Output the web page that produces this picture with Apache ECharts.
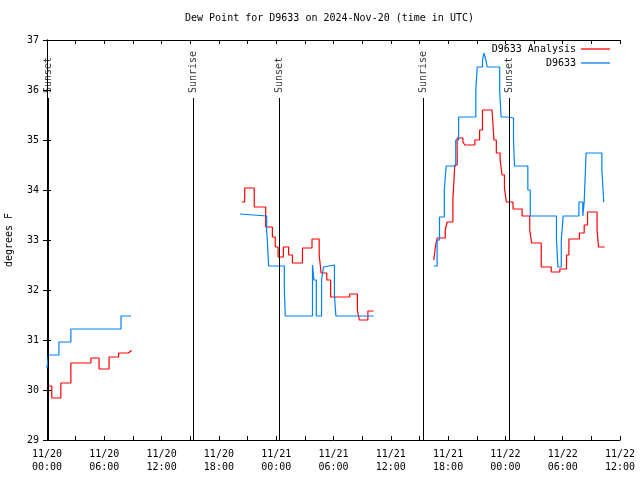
<!DOCTYPE html>
<html>
<head>
<meta charset="utf-8">
<script src="https://cdn.jsdelivr.net/npm/echarts@6/dist/echarts.min.js"></script>
<style>html,body{margin:0;padding:0;background:#fff}#c{width:640px;height:480px}</style>
</head>
<body>
<div id="c"></div>
<script>
// Hours since 2024-11-20 00:00 UTC; null = data gap (placed at the last hour of the segment before it)
const analysisHours = [0, 0.5, 1.45, 2.5, 4.6, 5.45, 6.5, 7.5, 8.5, 8.8,
  8.8,
  20.4, 20.7, 21.7, 22.9, 23.6, 23.9, 24.2, 24.75, 25.3, 25.7, 26.75, 27.75, 28.5, 28.7, 29.3, 29.7, 31.7, 32.5, 32.7, 33.6, 34.2,
  34.2,
  40.5, 40.7, 40.85, 41.7, 41.9, 42.5, 42.7, 42.95, 43.55, 43.75, 44.8, 45.3, 45.6, 46.6, 46.8, 47.05, 47.45, 47.65, 47.9, 48.1, 48.8, 49.75, 50.55, 50.75, 51.75, 52.8, 53.7, 54.4, 54.65, 55.75, 56.25, 56.6, 57.6, 57.75, 58.4];
const analysisValues = [30.08, 29.84, 30.14, 30.54, 30.64, 30.42, 30.66, 30.74, 30.78, 30.80,
  null,
  33.76, 34.04, 33.66, 33.26, 33.06, 32.86, 32.66, 32.86, 32.70, 32.54, 32.84, 33.02, 32.70, 32.34, 32.20, 31.86, 31.92, 31.60, 31.40, 31.58, 31.58,
  null,
  32.60, 32.90, 33.04, 33.20, 33.36, 33.80, 34.50, 35.04, 34.96, 34.90, 35.00, 35.20, 35.60, 35.60, 35.00, 34.74, 34.60, 34.30, 34.04, 33.76, 33.62, 33.48, 33.20, 32.94, 32.46, 32.36, 32.42, 32.70, 33.02, 33.14, 33.30, 33.56, 33.20, 32.86, 32.86];

const obsHours = [0, 0.15, 1.25, 2.5, 6.3, 6.4, 7.75, 8.8,
  8.8,
  20.2, 20.4, 23.0, 23.1, 23.2, 24.85, 24.95, 27.8, 27.95, 28.2, 28.75, 28.95, 29.15, 30.1, 30.25, 34.2,
  34.2,
  40.5, 40.85, 41.1, 41.6, 41.8, 42.8, 43.1, 44.9, 45.05, 45.6, 45.75, 45.95, 46.1, 47.4, 47.55, 48.2, 48.85, 48.95, 50.35, 50.6, 53.35, 53.5, 53.85, 54.05, 55.7, 56.1, 56.25, 56.45, 58.1, 58.3];
const obsValues = [30.44, 30.70, 30.96, 31.22, 31.26, 31.22, 31.48, 31.48,
  null,
  33.52, 33.48, 33.20, 32.90, 32.48, 32.00, 31.48, 32.50, 32.20, 31.48, 32.20, 32.46, 32.50, 31.90, 31.48, 31.48,
  null,
  32.48, 33.00, 33.46, 34.00, 34.48, 35.00, 35.46, 36.00, 36.46, 36.60, 36.74, 36.60, 36.46, 36.00, 35.46, 35.44, 35.00, 34.48, 34.00, 33.48, 33.00, 32.46, 33.00, 33.48, 33.76, 33.48, 33.76, 34.74, 34.40, 33.76];

const sunHours = [0.1, 15.3, 24.3, 39.4, 48.4];
const sunLabels = ['Sunset', 'Sunrise', 'Sunset', 'Sunrise', 'Sunset'];

const xTickLabels = ['11/20\n00:00', '11/20\n06:00', '11/20\n12:00', '11/20\n18:00', '11/21\n00:00', '11/21\n06:00', '11/21\n12:00', '11/21\n18:00', '11/22\n00:00', '11/22\n06:00', '11/22\n12:00'];

const FONT = 'DejaVu Sans Mono';
const pairs = (xs, ys) => xs.map((x, i) => [x, ys[i] === null ? '-' : ys[i]]);

const chart = echarts.init(document.getElementById('c'), null, {renderer: 'canvas'});
const axisCommon = {
  axisLine: {show: true, lineStyle: {color: '#000', width: 1}},
  axisTick: {show: true, inside: true, length: 4, lineStyle: {color: '#000'}},
  splitLine: {show: false}
};
const legendCommon = {
  right: 30, padding: 0, itemWidth: 29, itemHeight: 1.3, itemGap: 7, icon: 'rect',
  align: 'right', textStyle: {fontFamily: FONT, fontSize: 10, color: '#000'}
};
chart.setOption({
  animation: false,
  backgroundColor: '#fff',
  textStyle: {fontFamily: FONT, fontSize: 10, color: '#000'},
  title: {
    text: 'Dew Point for D9633 on 2024-Nov-20 (time in UTC)',
    left: 185, top: 13, padding: 0,
    textStyle: {fontFamily: FONT, fontSize: 10, fontWeight: 'normal', color: '#000'}
  },
  legend: [
    Object.assign({}, legendCommon, {data: ['D9633 Analysis'], top: 44}),
    Object.assign({}, legendCommon, {data: ['D9633'], top: 58})
  ],
  grid: {left: 47, right: 20, top: 40, bottom: 40, show: false, containLabel: false, outerBoundsMode: 'none'},
  xAxis: [
    Object.assign({}, axisCommon, {
      type: 'value', min: 0, max: 60, interval: 3, position: 'bottom',
      axisLabel: {margin: 8, fontFamily: FONT, fontSize: 10, color: '#000', lineHeight: 13,
        formatter: v => (v % 6 === 0 ? xTickLabels[v / 6] : '')}
    }),
    Object.assign({}, axisCommon, {
      type: 'value', min: 0, max: 60, interval: 3, position: 'top',
      axisLabel: {show: false}
    })
  ],
  yAxis: [
    Object.assign({}, axisCommon, {
      type: 'value', min: 29, max: 37, interval: 1, position: 'left',
      name: 'degrees F', nameLocation: 'middle', nameGap: 33, nameRotate: 90,
      nameTextStyle: {fontFamily: FONT, fontSize: 10, color: '#000'},
      axisLabel: {margin: 8, fontFamily: FONT, fontSize: 10, color: '#000'}
    }),
    Object.assign({}, axisCommon, {
      type: 'value', min: 29, max: 37, interval: 1, position: 'right',
      axisLabel: {show: false}
    })
  ],
  series: [
    {
      name: 'D9633 Analysis', type: 'line', step: 'end', symbol: 'none', showSymbol: false, connectNulls: false,
      color: '#ff0000', lineStyle: {color: '#ff0000', width: 1.2},
      data: pairs(analysisHours, analysisValues), z: 3
    },
    {
      name: 'D9633', type: 'line', step: 'end', symbol: 'none', showSymbol: false, connectNulls: false,
      color: '#0080ff', lineStyle: {color: '#0080ff', width: 1.2},
      data: pairs(obsHours, obsValues), z: 3
    },
    {
      name: 'sun', type: 'scatter', symbolSize: 0, silent: true, z: 4,
      data: sunHours.map((h, i) => ({value: [h, 35.94], name: sunLabels[i]})),
      label: {show: true, formatter: '{b}', position: 'inside', rotate: 90, align: 'left', verticalAlign: 'middle',
        fontFamily: FONT, fontSize: 10, color: '#000'},
      markLine: {
        silent: true, symbol: 'none', label: {show: false},
        lineStyle: {color: '#000', width: 1, type: 'solid'},
        data: sunHours.map(h => [{coord: [h, 29]}, {coord: [h, 35.84]}])
      }
    }
  ]
});
</script>
</body>
</html>
